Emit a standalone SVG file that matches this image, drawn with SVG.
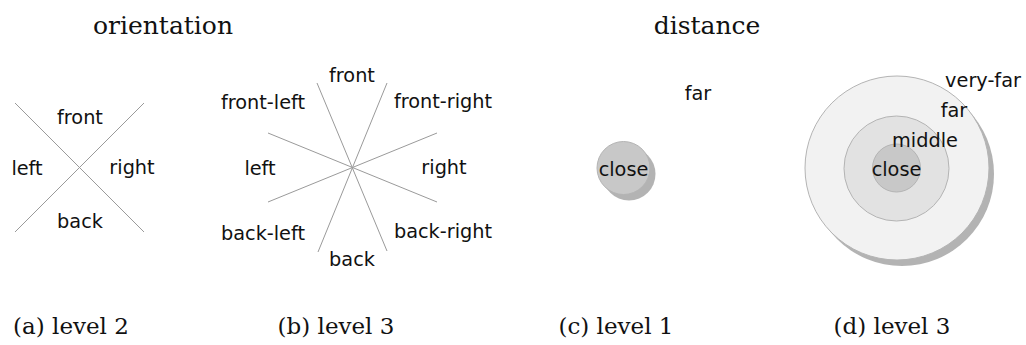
<svg xmlns="http://www.w3.org/2000/svg" width="1026" height="345" viewBox="0 0 1026 345">
  <style>
    .lbl { font-family: "DejaVu Sans", "Liberation Sans", sans-serif; font-size: 19.3px; fill: #111; text-anchor: middle; }
    .ttl { font-family: "DejaVu Serif", "Liberation Serif", serif; font-size: 25px; fill: #111; text-anchor: middle; }
    .cap { font-family: "DejaVu Serif", "Liberation Serif", serif; font-size: 23px; fill: #111; text-anchor: middle; }
    .ray { stroke: #9a9a9a; stroke-width: 1; fill: none; }
    .ring { stroke: #b4b4b4; stroke-width: 1; }
    .shadow { fill: #b3b3b3; }
  </style>
  <rect width="1026" height="345" fill="#ffffff"/>

  <!-- headings -->
  <text class="ttl" x="163" y="34">orientation</text>
  <text class="ttl" x="707" y="34">distance</text>

  <!-- (a) level 2 -->
  <g id="orient-level2">
    <g id="orient-level2-rays">
      <line class="ray" x1="15" y1="103" x2="144" y2="232"/>
      <line class="ray" x1="144" y1="103" x2="15" y2="232"/>
    </g>
    <text class="lbl" x="80" y="124">front</text>
    <text class="lbl" x="27" y="175">left</text>
    <text class="lbl" x="132" y="174">right</text>
    <text class="lbl" x="80" y="228">back</text>
    <text class="cap" x="71" y="334">(a) level 2</text>
  </g>

  <!-- (b) level 3 -->
  <g id="orient-level3">
    <g id="orient-level3-rays">
      <line class="ray" x1="317" y1="83" x2="387" y2="251"/>
      <line class="ray" x1="387" y1="83" x2="318" y2="252"/>
      <line class="ray" x1="268" y1="133" x2="437" y2="202"/>
      <line class="ray" x1="268" y1="202" x2="437" y2="133"/>
    </g>
    <text class="lbl" x="352" y="82">front</text>
    <text class="lbl" x="263" y="109">front-left</text>
    <text class="lbl" x="443" y="108">front-right</text>
    <text class="lbl" x="260" y="175">left</text>
    <text class="lbl" x="444" y="174">right</text>
    <text class="lbl" x="263" y="240">back-left</text>
    <text class="lbl" x="443" y="238">back-right</text>
    <text class="lbl" x="352" y="266">back</text>
    <text class="cap" x="336" y="334">(b) level 3</text>
  </g>

  <!-- (c) level 1 -->
  <g id="dist-level1">
    <circle class="shadow" cx="629" cy="174" r="26.5"/>
    <circle class="ring" cx="623.5" cy="168" r="26.5" fill="#c8c8c8"/>
    <text class="lbl" x="623.5" y="176">close</text>
    <text class="lbl" x="698" y="100">far</text>
    <text class="cap" x="616" y="334">(c) level 1</text>
  </g>

  <!-- (d) level 3 -->
  <g id="dist-level3">
    <circle class="shadow" cx="902" cy="174" r="92"/>
    <circle class="ring" cx="897" cy="168" r="92" fill="#f2f2f2"/>
    <circle class="ring" cx="896.5" cy="168.5" r="52.5" fill="#e2e2e2"/>
    <circle class="ring" cx="896.5" cy="168" r="24" fill="#c8c8c8"/>
    <text class="lbl" x="983" y="87">very-far</text>
    <text class="lbl" x="954" y="117">far</text>
    <text class="lbl" x="925" y="147">middle</text>
    <text class="lbl" x="896.5" y="176">close</text>
    <text class="cap" x="892" y="334">(d) level 3</text>
  </g>
</svg>
